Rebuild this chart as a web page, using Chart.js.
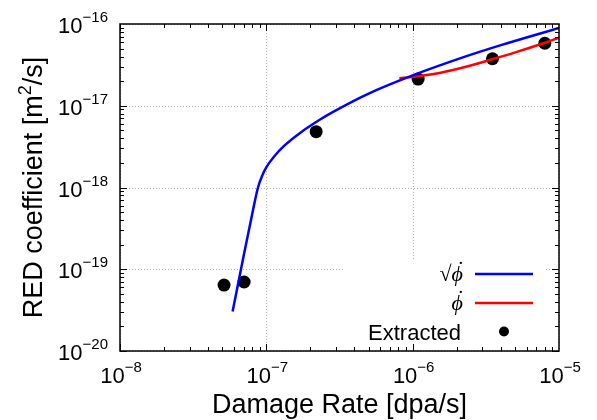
<!DOCTYPE html>
<html>
<head>
<meta charset="utf-8">
<script src="https://cdn.jsdelivr.net/npm/chart.js@4"></script>
<style>
  body { margin: 0; background: #fff; }
  #wrap { width: 597px; height: 420px; }
</style>
</head>
<body>
<div id="wrap"><canvas id="red"></canvas></div>
<script>
// sqrt(phi-dot) fit
let sqrtRate = [5.88e-8, 6.71e-8, 8.11e-8, 8.77e-8, 9.35e-8, 1.006e-7, 1.146e-7, 1.31e-7, 1.70e-7, 2.33e-7, 2.86e-7, 4.88e-7, 1.0e-6, 2.36e-6, 3.96e-6, 1.0e-5];
let sqrtD    = [3.04e-20, 1.0e-19, 5.31e-19, 1.0e-18, 1.38e-18, 1.80e-18, 2.46e-18, 3.18e-18, 4.65e-18, 6.78e-18, 8.41e-18, 1.38e-17, 2.35e-17, 4.07e-17, 5.48e-17, 8.95e-17];
// linear phi-dot fit
let linRate = [8.11e-7, 1.01e-6, 1.39e-6, 2.11e-6, 3.49e-6, 5.15e-6, 8.0e-6, 1.0e-5];
let linD    = [2.17e-17, 2.26e-17, 2.44e-17, 2.87e-17, 3.70e-17, 4.56e-17, 5.90e-17, 6.79e-17];
// extracted points
let extRate = [5.14e-8, 7.05e-8, 2.19e-7, 1.09e-6, 3.51e-6, 8.0e-6];
let extD    = [6.41e-20, 6.98e-20, 4.82e-18, 2.12e-17, 3.76e-17, 5.81e-17];

let xDecades = [-8, -7, -6, -5];
let yDecades = [-20, -19, -18, -17, -16];

let legendLabels = ["\u221A\u03D5", "\u03D5", "Extracted"];

const SANS = '"Liberation Sans", Arial, sans-serif';
const SERIF = '"Liberation Serif", "DejaVu Serif", serif';

const pts = (xs, ys) => xs.map((x, i) => ({ x: x, y: ys[i] }));

function powLabel(ctx, exp, x, y, align) {
  let base = "10", e = "\u2212" + Math.abs(exp);
  ctx.font = "22px " + SANS;
  let wb = ctx.measureText(base).width;
  ctx.font = "15px " + SANS;
  let we = ctx.measureText(e).width;
  let start = align === "center" ? x - (wb + we) / 2 : x - (wb + we);
  ctx.textAlign = "left";
  ctx.textBaseline = "alphabetic";
  ctx.font = "22px " + SANS;
  ctx.fillText(base, start, y);
  ctx.font = "15px " + SANS;
  ctx.fillText(e, start + wb, y - 11);
}

// phi with a dot over it, right-aligned at x
function phiDot(ctx, text, x, y) {
  ctx.font = "italic 22px " + SERIF;
  ctx.textAlign = "right";
  ctx.fillText(text, x, y);
  let w = ctx.measureText("\u03D5").width;
  ctx.textAlign = "center";
  ctx.fillText("\u02D9", x - w / 2 + 2, y - 5);
}

const frame = {
  id: "frame",
  beforeDatasetsDraw(chart) {
    let { ctx, chartArea: a, scales } = chart;
    ctx.save();
    ctx.strokeStyle = "#b0b0b0";
    ctx.lineWidth = 1;
    ctx.setLineDash([1, 2]);
    xDecades.forEach((d) => {
      let px = Math.round(scales.x.getPixelForValue(Math.pow(10, d))) + 0.5;
      ctx.beginPath(); ctx.moveTo(px, a.top); ctx.lineTo(px, a.bottom); ctx.stroke();
    });
    yDecades.forEach((d) => {
      let py = Math.round(scales.y.getPixelForValue(Math.pow(10, d))) + 0.5;
      ctx.beginPath(); ctx.moveTo(a.left, py); ctx.lineTo(a.right, py); ctx.stroke();
    });
    ctx.setLineDash([]);
    // legend box hides grid
    ctx.fillStyle = "#fff";
    ctx.fillRect(343, 261, 203, a.bottom - 261);
    ctx.restore();
  },
  afterDatasetsDraw(chart) {
    let { ctx, chartArea: a, scales } = chart;
    ctx.save();
    ctx.strokeStyle = "#000";
    ctx.lineWidth = 1.5;
    ctx.strokeRect(a.left, a.top, a.right - a.left, a.bottom - a.top);

    // inward ticks on all four sides
    ctx.lineWidth = 1;
    for (let d = -8; d < -5; d++) {
      for (let m = 1; m <= 9; m++) {
        let px = Math.round(scales.x.getPixelForValue(m * Math.pow(10, d))) + 0.5;
        let len = m === 1 ? 7 : 4;
        ctx.beginPath();
        ctx.moveTo(px, a.bottom); ctx.lineTo(px, a.bottom - len);
        ctx.moveTo(px, a.top); ctx.lineTo(px, a.top + len);
        ctx.stroke();
      }
    }
    for (let d = -20; d < -16; d++) {
      for (let m = 1; m <= 9; m++) {
        let py = Math.round(scales.y.getPixelForValue(m * Math.pow(10, d))) + 0.5;
        let len = m === 1 ? 7 : 4;
        ctx.beginPath();
        ctx.moveTo(a.left, py); ctx.lineTo(a.left + len, py);
        ctx.moveTo(a.right, py); ctx.lineTo(a.right - len, py);
        ctx.stroke();
      }
    }

    // tick labels
    ctx.fillStyle = "#000";
    xDecades.forEach((d) => {
      powLabel(ctx, d, scales.x.getPixelForValue(Math.pow(10, d)) + 1, 383, "center");
    });
    yDecades.forEach((d) => {
      powLabel(ctx, d, 108, scales.y.getPixelForValue(Math.pow(10, d)) + 9, "right");
    });

    // axis titles
    ctx.font = "27px " + SANS;
    ctx.textAlign = "center";
    ctx.textBaseline = "alphabetic";
    ctx.fillText("Damage Rate [dpa/s]", (a.left + a.right) / 2, 413);

    ctx.save();
    ctx.translate(42, (a.top + a.bottom) / 2);
    ctx.rotate(-Math.PI / 2);
    let t1 = "RED coefficient [m", t2 = "2", t3 = "/s]";
    ctx.font = "27px " + SANS;
    let w1 = ctx.measureText(t1).width, w3 = ctx.measureText(t3).width;
    ctx.font = "18px " + SANS;
    let w2 = ctx.measureText(t2).width;
    let s = -(w1 + w2 + w3) / 2;
    ctx.textAlign = "left";
    ctx.font = "27px " + SANS;
    ctx.fillText(t1, s, 0);
    ctx.fillText(t3, s + w1 + w2, 0);
    ctx.font = "18px " + SANS;
    ctx.fillText(t2, s + w1, -11);
    ctx.restore();

    // legend
    let rows = [274, 303, 331.5];
    phiDot(ctx, legendLabels[0], 463, rows[0] + 7);
    phiDot(ctx, legendLabels[1], 463, rows[1] + 7);
    ctx.textAlign = "right";
    ctx.font = "22px " + SANS;
    ctx.fillText(legendLabels[2], 461, rows[2] + 8);
    ctx.lineWidth = 2.5;
    ctx.strokeStyle = "#0000ff";
    ctx.beginPath(); ctx.moveTo(475, rows[0]); ctx.lineTo(533, rows[0]); ctx.stroke();
    ctx.strokeStyle = "#ff0000";
    ctx.beginPath(); ctx.moveTo(475, rows[1]); ctx.lineTo(533, rows[1]); ctx.stroke();
    ctx.fillStyle = "#000";
    ctx.beginPath(); ctx.arc(504, rows[2], 5, 0, Math.PI * 2); ctx.fill();
    ctx.restore();
  }
};

new Chart("red", {
  type: "scatter",
  data: {
    datasets: [
      {
        data: pts(sqrtRate, sqrtD),
        showLine: true,
        borderColor: "#0000ff",
        borderWidth: 2.5,
        pointRadius: 0,
        cubicInterpolationMode: "monotone",
        label: legendLabels[0],
      },
      {
        data: pts(linRate, linD),
        showLine: true,
        borderColor: "#ff0000",
        borderWidth: 2.5,
        pointRadius: 0,
        cubicInterpolationMode: "monotone",
        label: legendLabels[1],
      },
      {
        data: pts(extRate, extD),
        showLine: false,
        pointRadius: 6.5,
        pointBackgroundColor: "#000",
        pointBorderWidth: 0,
        label: legendLabels[2],
      },
    ],
  },
  options: {
    responsive: true,
    maintainAspectRatio: false,
    animation: false,
    events: [],
    layout: { padding: { left: 120, right: 38, top: 24, bottom: 69 } },
    scales: {
      x: { type: "logarithmic", min: 1e-8, max: 1e-5, display: false },
      y: { type: "logarithmic", min: 1e-20, max: 1e-16, display: false },
    },
    plugins: { legend: { display: false }, tooltip: { enabled: false } },
  },
  plugins: [frame],
});
</script>
</body>
</html>
